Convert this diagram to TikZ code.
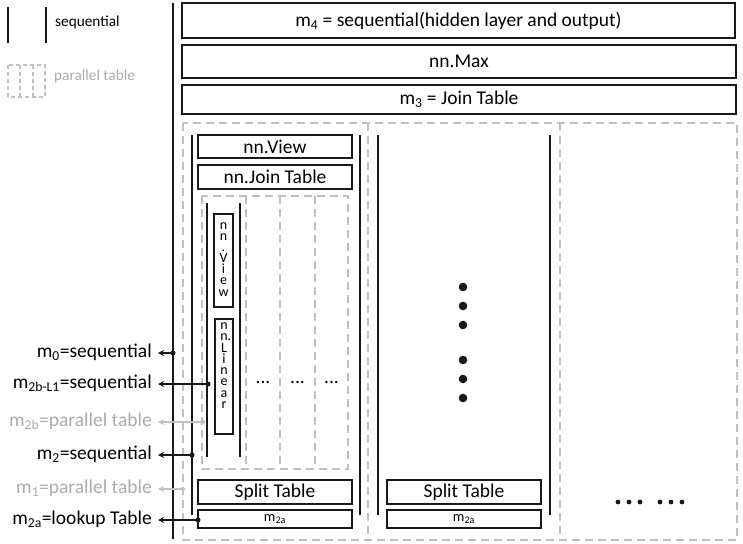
\documentclass[tikz,border=0pt]{standalone}
\usepackage{fontspec}
\setmainfont{Carlito}
\usetikzlibrary{arrows.meta}
\definecolor{seqline}{RGB}{24,24,24}
\definecolor{partable}{RGB}{192,192,192}
\definecolor{partext}{RGB}{172,172,172}
\tikzset{
  bigfont/.style={font=\fontsize{19.5}{23}\selectfont},
  modbox/.style={draw=seqline, line width=2.4pt, rectangle, inner sep=0pt, outer sep=0pt, bigfont},
  smallbox/.style={modbox, font=\fontsize{14.5}{16}\selectfont},
  seqrail/.style={draw=seqline, line width=2.2pt},
  partab/.style={draw=partable, line width=2.4pt, dash pattern=on 8pt off 5pt},
  legtab/.style={draw=partable, line width=1.8pt, dash pattern=on 4pt off 3pt},
  vstack/.style={inner sep=0pt, align=center, anchor=north},
  modlabel/.style={bigfont, anchor=base east, inner xsep=6pt, inner ysep=0pt},
  legend/.style={font=\fontsize{15.3}{17}\selectfont, anchor=base west, inner sep=0pt},
  pointer/.style={line width=1.6pt, draw=seqline, -{Stealth[length=6pt,width=6pt]}},
  graypointer/.style={line width=1.6pt, draw=partable, -{Stealth[length=6pt,width=6pt]}},
  knot/.style={circle, fill=seqline, inner sep=0pt, minimum size=5pt},
  grayknot/.style={circle, fill=partable, inner sep=0pt, minimum size=4pt},
}
\begin{document}
\begin{tikzpicture}[x=1pt,y=-1pt]
\useasboundingbox (0,0) rectangle (743,543);

% ---- legend ----
\draw[seqrail] (8,7) -- (8,43);
\draw[seqrail] (46,7) -- (46,43);
\node[legend] (legseq) at (55,26.5) {sequential};
\draw[legtab] (8,65) rectangle (45,97);
\draw[legtab] (20,65) -- (20,97);
\draw[legtab] (33,65) -- (33,97);
\node[legend, text=partext] (legpar) at (54,80) {parallel table};

% ---- outer sequential rail ----
\draw[seqrail] (173,3) -- (173,539);

% ---- top modules ----
\node[modbox, minimum width=553pt, minimum height=35pt] (m4) at (458.5,20.5)
  {m\textsubscript{4} = sequential(hidden layer and output)};
\node[modbox, minimum width=554pt, minimum height=33pt] (max) at (459,61.5) {nn.Max};
\node[modbox, minimum width=554pt, minimum height=29pt] (m3) at (459,99.5)
  {m\textsubscript{3} = Join Table};

% ---- parallel table m1 with its branches ----
\draw[partab] (183,123) rectangle (737,540);
\draw[partab] (368,123) -- (368,540);
\draw[partab] (560,123) -- (560,540);

% ---- first branch ----
\draw[seqrail] (192,135) -- (192,515);
\draw[seqrail] (360,135) -- (360,515);
\node[modbox, minimum width=154pt, minimum height=23pt] (view1) at (275,146.5) {nn.View};
\node[modbox, minimum width=154pt, minimum height=24pt] (join1) at (275,177) {nn.Join Table};

% inner parallel table m2b
\draw[partab] (202,196) rectangle (348,469);
\draw[partab] (246,196) -- (246,469);
\draw[partab] (280,196) -- (280,469);
\draw[partab] (315,196) -- (315,469);
\draw[seqrail] (207,203) -- (207,457);
\draw[seqrail] (240,203) -- (240,457);

\node[modbox, minimum width=19pt, minimum height=93pt] (vview) at (223.5,260.5) {};
\node[vstack, font=\fontsize{14}{11.1}\selectfont] (vviewtxt) at (223.5,222.5)
  {n\\n\\.\\V\\i\\e\\w};
\node[modbox, minimum width=18pt, minimum height=115pt] (vlin) at (224,376.5) {};
\node[vstack, font=\fontsize{14}{11.3}\selectfont] (vlintxt) at (224,322.5)
  {n\\n\rlap{.}\\L\\i\\n\\e\\a\\r};

\node[bigfont, anchor=base, inner sep=0pt] (dotsa) at (263,383) {...};
\node[bigfont, anchor=base, inner sep=0pt] (dotsb) at (297.5,383) {...};
\node[bigfont, anchor=base, inner sep=0pt] (dotsc) at (331.5,383) {...};

\node[modbox, minimum width=154pt, minimum height=24pt] (split1) at (275,492) {Split Table};
\node[smallbox, minimum width=154pt, minimum height=18pt] (look1) at (275,519)
  {m\textsubscript{2a}};

% ---- second branch ----
\draw[seqrail] (378,135) -- (378,515);
\draw[seqrail] (550,135) -- (550,515);
\foreach \yy in {287,306,325,360,379,398}
  \fill[seqline] (463,\yy) circle (4.3pt);
\node[modbox, minimum width=154pt, minimum height=24pt] (split2) at (464,492) {Split Table};
\node[smallbox, minimum width=154pt, minimum height=18pt] (look2) at (464,519)
  {m\textsubscript{2a}};

% ---- further branches ----
\foreach \xx in {618,629,640,660,671,682}
  \fill[seqline] (\xx,502) circle (2.4pt);

% ---- module labels ----
\node[modlabel] (l0) at (158,357.5) {m\textsubscript{0}=sequential};
\node[modlabel] (l2bl) at (158,388.5) {m\textsubscript{2b-L1}=sequential};
\node[modlabel, text=partext] (l2b) at (158,426.5) {m\textsubscript{2b}=parallel table};
\node[modlabel] (l2) at (158,459.5) {m\textsubscript{2}=sequential};
\node[modlabel, text=partext] (l1) at (158,493.5) {m\textsubscript{1}=parallel table};
\node[modlabel] (l2a) at (158,524.5) {m\textsubscript{2a}=lookup Table};

\node[knot] (k0) at (173,353) {};
\node[knot] (k2bl) at (208,384) {};
\node[grayknot] (k2b) at (203,422) {};
\node[knot] (k2) at (192,455) {};
\node[grayknot] (k1) at (183,489) {};
\node[knot] (k2a) at (198,520) {};

\draw[pointer] (k0.center) -- (l0.east |- k0);
\draw[pointer] (k2bl.center) -- (l2bl.east |- k2bl);
\draw[graypointer] (k2b.center) -- (l2b.east |- k2b);
\draw[pointer] (k2.center) -- (l2.east |- k2);
\draw[graypointer] (k1.center) -- (l1.east |- k1);
\draw[pointer] (k2a.center) -- (l2a.east |- k2a);
\end{tikzpicture}
\end{document}
